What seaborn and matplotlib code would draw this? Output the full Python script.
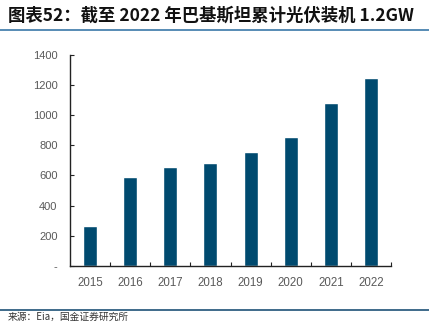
import matplotlib
matplotlib.use("Agg")
import matplotlib.pyplot as plt
import seaborn as sns
import pandas as pd

years = ["2015", "2016", "2017", "2018", "2019", "2020", "2021", "2022"]
capacity = [265, 589, 656, 680, 757, 852, 1077, 1243]
y_ticks = [0, 200, 400, 600, 800, 1000, 1200, 1400]
y_tick_labels = ["-", "200", "400", "600", "800", "1000", "1200", "1400"]
title = "图表52：截至 2022 年巴基斯坦累计光伏装机 1.2GW"
source = "来源：Eia，国金证券研究所"

sns.set_theme(style="white")
plt.rcParams['font.family'] = ['Noto Sans CJK SC', 'DejaVu Sans']

df = pd.DataFrame({"year": years, "capacity": capacity})

fig = plt.figure(figsize=(4.29, 3.23), dpi=100)
ax = fig.add_axes([70 / 429, 1 - 266 / 323, (391 - 70) / 429, (266 - 54.7) / 323])

sns.barplot(data=df, x="year", y="capacity", color="#004a6f", saturation=1,
            width=0.35, ax=ax)

ax.set_xlim(-0.5, len(years) - 0.5)
ax.set_ylim(0, 1400)
ax.set_yticks(y_ticks)
ax.set_yticklabels(y_tick_labels)
ax.set_xlabel("")
ax.set_ylabel("")

for s in ["top", "right"]:
    ax.spines[s].set_visible(False)
for s in ["left", "bottom"]:
    ax.spines[s].set_color("#222222")
    ax.spines[s].set_linewidth(1.0)

ax.tick_params(axis="y", direction="in", length=3, width=0.8, color="#222222",
               labelsize=8, labelcolor="#595959", pad=9, left=True)
ax.set_xticks([i for i in range(len(years))])
ax.set_xticklabels(years)
ax.tick_params(axis="x", length=0, labelsize=8.3, labelcolor="#595959", pad=8)
for lab in ax.get_xticklabels() + ax.get_yticklabels():
    lab.set_fontfamily("Liberation Sans")
# boundary ticks between categories
ax.set_xticks([i + 0.5 for i in range(len(years))], minor=True)
ax.tick_params(axis="x", which="minor", direction="in", length=3, width=0.8,
               color="#222222", bottom=True)

fig.text(8 / 429, 1 - 16 / 323, title, fontsize=12.5, fontweight="bold",
         style="italic", color="#111111", ha="left", va="center")
fig.add_artist(plt.Line2D([0, 1], [1 - 29.5 / 323, 1 - 29.5 / 323],
                          color="#3a78a8", lw=1.2, transform=fig.transFigure))
fig.add_artist(plt.Line2D([0, 1], [1 - 309.5 / 323, 1 - 309.5 / 323],
                          color="#1e5277", lw=1.2, transform=fig.transFigure))
fig.text(8 / 429, 1 - 317 / 323, source, fontsize=7, color="#333333",
         ha="left", va="center")

fig.savefig("out.png", dpi=100)
